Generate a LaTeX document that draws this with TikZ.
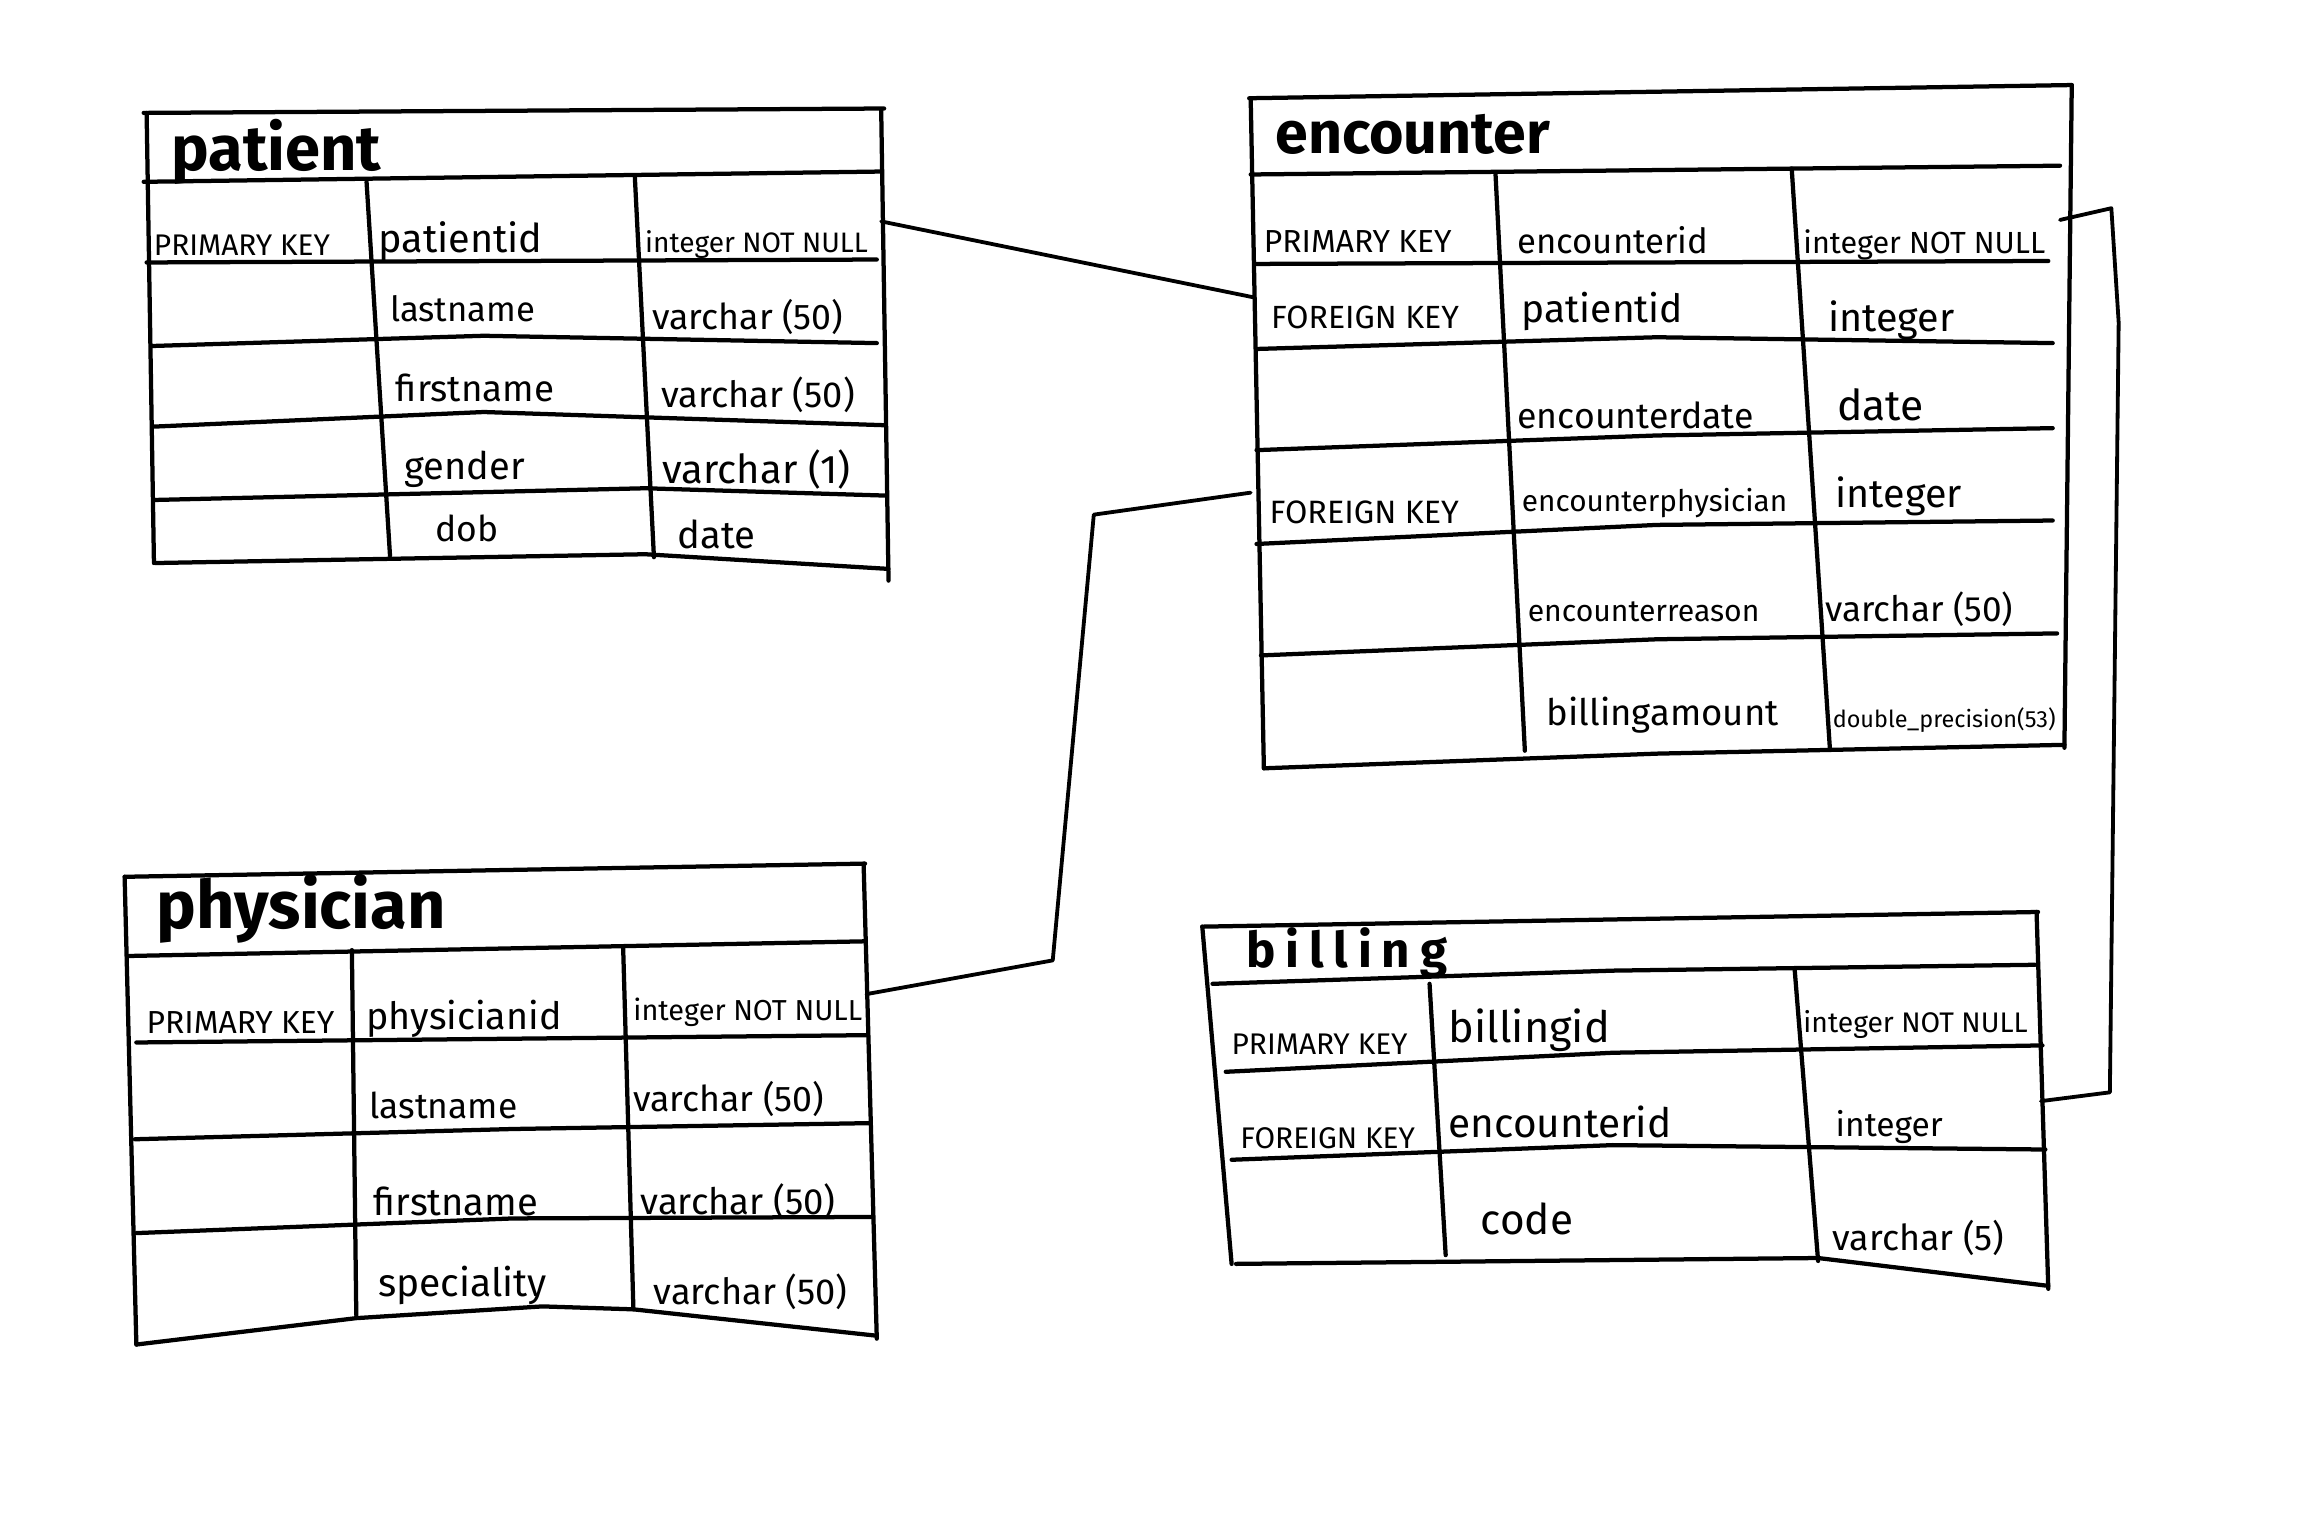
\documentclass[tikz,border=0pt]{standalone}
\usepackage{fontspec}
\setmainfont{Fira Sans}
\usepackage{graphicx}
\newcommand\tw[2]{\resizebox{#1pt}{!}{#2}}
\begin{document}
\begin{tikzpicture}[x=1pt,y=-1pt,
  tbl/.style={line width=2.9pt,line cap=round,line join=round},
  conn/.style={line width=2.6pt,line cap=round,line join=round},
  txt/.style={anchor=base west,inner sep=0pt,outer sep=0pt}]
\fill[white] (0,0) rectangle (1568,1037);
\useasboundingbox (0,0) rectangle (1568,1037);

% ---------------- patient ----------------
\draw[tbl] (98,77) -- (603,74);
\draw[tbl] (100,77) -- (105,384);
\draw[tbl] (601,75) -- (606,396);
\draw[tbl] (98,124) -- (600,117);
\draw[tbl] (100,179) -- (598,177);
\draw[tbl] (103,236) -- (330,229) -- (598,234);
\draw[tbl] (104,291) -- (330,281) -- (603,290);
\draw[tbl] (105,341) -- (440,333) -- (604,338);
\draw[tbl] (106,384) -- (440,378) -- (606,388);
\draw[tbl] (250,124) -- (266,379);
\draw[tbl] (433,121) -- (446,380);
\node[txt] (pT) at (117,116) {\tw{143}{\bfseries patient}};
\node[txt] (pK1) at (105,174) {\tw{120}{PRIMARY KEY}};
\node[txt] (pF1) at (258,172) {\tw{112}{patientid}};
\node[txt] (pY1) at (440,172) {\tw{152}{integer NOT NULL}};
\node[txt] (pF2) at (266,219) {\tw{99}{lastname}};
\node[txt] (pY2) at (445,225) {\tw{130}{varchar (50)}};
\node[txt] (pF3) at (270,274) {\tw{108}{firstname}};
\node[txt] (pY3) at (451,278) {\tw{132}{varchar (50)}};
\node[txt] (pF4) at (276,327) {\tw{82}{gender}};
\node[txt] (pY4) at (452,330) {\tw{128}{varchar (1)}};
\node[txt] (pF5) at (297,369) {\tw{43}{dob}};
\node[txt] (pY5) at (462,374) {\tw{53}{date}};

% ---------------- encounter ----------------
\draw[tbl] (852,67) -- (1413,58);
\draw[tbl] (853,67) -- (862,524);
\draw[tbl] (1413,58) -- (1408,510);
\draw[tbl] (853,119) -- (1405,113);
\draw[tbl] (857,180) -- (1397,178);
\draw[tbl] (857,238) -- (1130,230) -- (1400,234);
\draw[tbl] (857,307) -- (1130,297) -- (1400,292);
\draw[tbl] (857,371) -- (1130,358) -- (1400,355);
\draw[tbl] (860,447) -- (1130,436) -- (1403,432);
\draw[tbl] (862,524) -- (1130,514) -- (1408,508);
\draw[tbl] (1020,119) -- (1040,512);
\draw[tbl] (1222,115) -- (1248,510);
\node[txt] (eT) at (870,105) {\tw{187}{\bfseries encounter}};
\node[txt] (eK1) at (862,172) {\tw{128}{PRIMARY KEY}};
\node[txt] (eF1) at (1035,173) {\tw{130}{encounterid}};
\node[txt] (eY1) at (1230,173) {\tw{165}{integer NOT NULL}};
\node[txt] (eK2) at (867,224) {\tw{128}{FOREIGN KEY}};
\node[txt] (eF2) at (1038,220) {\tw{110}{patientid}};
\node[txt] (eY2) at (1247,226) {\tw{86}{integer}};
\node[txt] (eF3) at (1035,292) {\tw{161}{encounterdate}};
\node[txt] (eY3) at (1253,287) {\tw{59}{date}};
\node[txt] (eK4) at (866,357) {\tw{129}{FOREIGN KEY}};
\node[txt] (eF4) at (1038,349) {\tw{181}{encounterphysician}};
\node[txt] (eY4) at (1252,346) {\tw{86}{integer}};
\node[txt] (eF5) at (1042,424) {\tw{158}{encounterreason}};
\node[txt] (eY5) at (1245,424) {\tw{128}{varchar (50)}};
\node[txt] (eF6) at (1055,495) {\tw{158}{billingamount}};
\node[txt] (eY6) at (1250,496) {\tw{152}{double\_precision(53)}};

% ---------------- physician ----------------
\draw[tbl] (85,598) -- (590,589);
\draw[tbl] (85,598) -- (93,917);
\draw[tbl] (589,589) -- (598,913);
\draw[tbl] (88,652) -- (590,642);
\draw[tbl] (93,711) -- (592,706);
\draw[tbl] (92,777) -- (350,770) -- (593,766);
\draw[tbl] (93,841) -- (350,831) -- (595,830);
\draw[tbl] (93,917) -- (243,899) -- (370,891) -- (432,893) -- (598,911);
\draw[tbl] (240,648) -- (243,897);
\draw[tbl] (425,646) -- (432,893);
\node[txt] (hT) at (107,633) {\tw{197}{\bfseries physician}};
\node[txt] (hK1) at (100,705) {\tw{128}{PRIMARY KEY}};
\node[txt] (hF1) at (250,702) {\tw{133}{physicianid}};
\node[txt] (hY1) at (432,696) {\tw{156}{integer NOT NULL}};
\node[txt] (hF2) at (252,763) {\tw{101}{lastname}};
\node[txt] (hY2) at (432,758) {\tw{130}{varchar (50)}};
\node[txt] (hF3) at (255,829) {\tw{112}{firstname}};
\node[txt] (hY3) at (437,828) {\tw{133}{varchar (50)}};
\node[txt] (hF4) at (258,884) {\tw{115}{speciality}};
\node[txt] (hY4) at (446,890) {\tw{132}{varchar (50)}};

% ---------------- billing ----------------
\draw[tbl] (820,632) -- (1390,622);
\draw[tbl] (820,632) -- (840,862);
\draw[tbl] (1389,622) -- (1397,879);
\draw[tbl] (827,671) -- (1100,662) -- (1388,658);
\draw[tbl] (836,731) -- (1100,718) -- (1393,713);
\draw[tbl] (840,791) -- (1100,781) -- (1395,784);
\draw[tbl] (843,862) -- (1240,858) -- (1397,877);
\draw[tbl] (975,671) -- (986,856);
\draw[tbl] (1224,661) -- (1240,860);
\node[txt] (bT) at (850,660) {\tw{137}{\bfseries b\kern2pt i\kern2pt l\kern2pt l\kern2pt i\kern2pt n\kern2pt g}};
\node[txt] (bK1) at (840,719) {\tw{120}{PRIMARY KEY}};
\node[txt] (bF1) at (988,711) {\tw{110}{billingid}};
\node[txt] (bY1) at (1230,704) {\tw{153}{integer NOT NULL}};
\node[txt] (bK2) at (846,783) {\tw{119}{FOREIGN KEY}};
\node[txt] (bF2) at (988,776) {\tw{152}{encounterid}};
\node[txt] (bY2) at (1252,775) {\tw{73}{integer}};
\node[txt] (bF3) at (1010,842) {\tw{63}{code}};
\node[txt] (bY3) at (1250,853) {\tw{117}{varchar (5)}};

% ---------------- connectors ----------------
\coordinate (patR) at (601,151);
\coordinate (encL1) at (856,203);
\coordinate (encR) at (1405,150);
\coordinate (eb1) at (1440,142);
\coordinate (eb2) at (1445,220);
\coordinate (eb3) at (1439,745);
\coordinate (bilR) at (1392,751);
\coordinate (phyR) at (591,678);
\coordinate (pe1) at (718,655);
\coordinate (pe2) at (746,351);
\coordinate (encL2) at (853,336);
\draw[conn] (patR) -- (encL1);
\draw[conn] (encR) -- (eb1) -- (eb2) -- (eb3) -- (bilR);
\draw[conn] (phyR) -- (pe1) -- (pe2) -- (encL2);
\end{tikzpicture}
\end{document}
